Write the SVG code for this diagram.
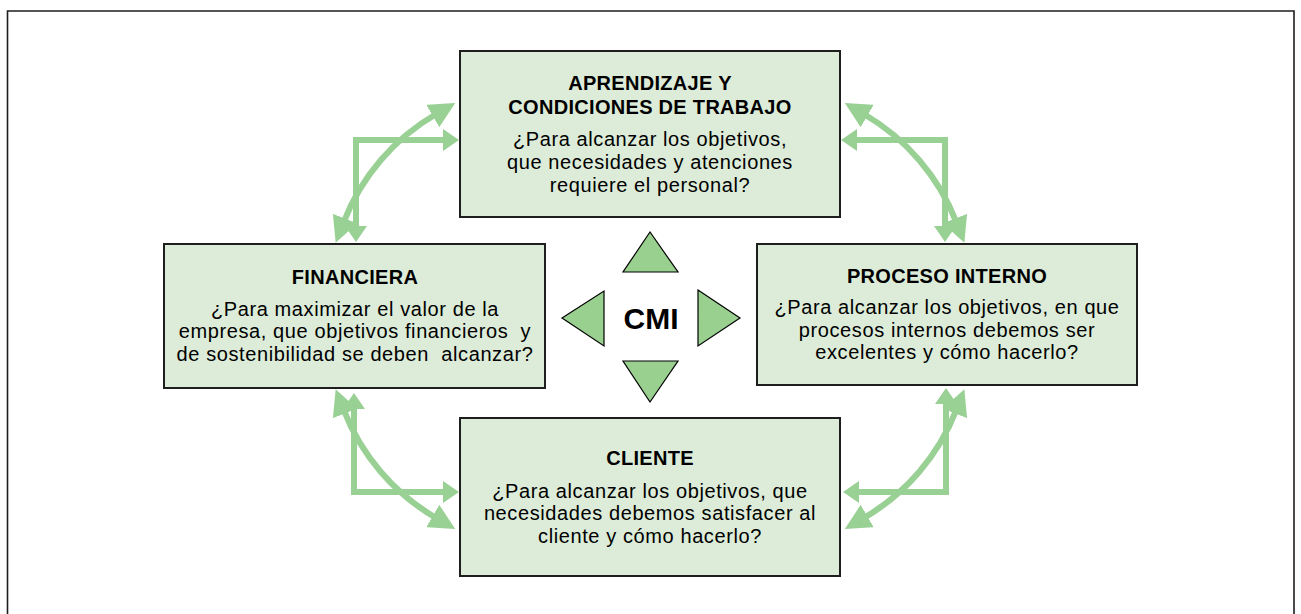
<svg xmlns="http://www.w3.org/2000/svg" width="1301" height="614" viewBox="0 0 1301 614">
<style>
.box{fill:#dcecd8;stroke:#1e1e1e;stroke-width:2}
.t{font-family:"Liberation Sans",Arial,sans-serif;font-size:20px;font-weight:bold;fill:#000;text-anchor:middle;letter-spacing:0.3px}
.b{font-family:"Liberation Sans",Arial,sans-serif;font-size:20px;fill:#000;text-anchor:middle;letter-spacing:0.6px}
.el{fill:none;stroke:#99d094;stroke-width:6;marker-start:url(#ah);marker-end:url(#ah)}
.arc{fill:none;stroke:#99d094;stroke-width:6;marker-start:url(#ahc);marker-end:url(#ahc)}
.tri{fill:#99cf8f;stroke:#000;stroke-width:1.2}
</style>
<defs>
<marker id="ah" markerUnits="userSpaceOnUse" markerWidth="16" markerHeight="22" viewBox="0 0 16 22" refX="3" refY="11" orient="auto-start-reverse"><path d="M0,0 L16,11 L0,22 z" fill="#99d094"/></marker>
<marker id="ahc" markerUnits="userSpaceOnUse" markerWidth="26" markerHeight="26" viewBox="0 0 26 26" refX="4" refY="13" orient="auto-start-reverse"><path d="M0,0 L26,13 L0,26 z" fill="#99d094"/></marker>
</defs>
<rect width="1301" height="614" fill="#fff"/>
<path d="M1294,614 V11 H7.5 V614" fill="none" stroke="#1e1e1e" stroke-width="1.6"/>
<g id="connectors">
<path class="el" d="M356,229 L356,140 L446,140"/>
<path class="arc" d="M343.6,222.3 A215,215 0 0 1 436.2,114"/>
<path class="el" d="M854,140 L945,140 L945,229"/>
<path class="arc" d="M863.8,114 A215,215 0 0 1 956.4,222.3"/>
<path class="el" d="M354,406 L354,492 L446,492"/>
<path class="arc" d="M343.6,409.7 A215,215 0 0 0 436.2,518"/>
<path class="el" d="M946,401 L946,492 L856,492"/>
<path class="arc" d="M956.4,409.7 A215,215 0 0 1 863.8,518"/>
</g>
<g id="aprendizaje">
<rect class="box" x="460" y="51" width="380" height="166"/>
<text class="t" x="650" y="90">APRENDIZAJE Y</text>
<text class="t" x="650" y="114">CONDICIONES DE TRABAJO</text>
<text class="b" x="650" y="146">¿Para alcanzar los objetivos,</text>
<text class="b" x="650" y="169">que necesidades y atenciones</text>
<text class="b" x="650" y="192">requiere el personal?</text>
</g>
<g id="financiera">
<rect class="box" x="164" y="244" width="381" height="144"/>
<text class="t" x="355" y="284">FINANCIERA</text>
<text class="b" x="355" y="316">¿Para maximizar el valor de la</text>
<text class="b" x="355" y="338" xml:space="preserve">empresa, que objetivos financieros  y</text>
<text class="b" x="355" y="361" xml:space="preserve">de sostenibilidad se deben  alcanzar?</text>
</g>
<g id="proceso">
<rect class="box" x="757" y="244" width="380" height="141"/>
<text class="t" x="947" y="283">PROCESO INTERNO</text>
<text class="b" x="947" y="314">¿Para alcanzar los objetivos, en que</text>
<text class="b" x="947" y="337">procesos internos debemos ser</text>
<text class="b" x="947" y="359">excelentes y cómo hacerlo?</text>
</g>
<g id="cliente">
<rect class="box" x="460" y="418" width="380" height="158"/>
<text class="t" x="650" y="465">CLIENTE</text>
<text class="b" x="650" y="498">¿Para alcanzar los objetivos, que</text>
<text class="b" x="650" y="520">necesidades debemos satisfacer al</text>
<text class="b" x="650" y="543">cliente y cómo hacerlo?</text>
</g>
<g id="cmi">
<polygon class="tri" points="650,232 623,272 678,272"/>
<polygon class="tri" points="562,318 604,291 604,346"/>
<polygon class="tri" points="698,290 740,318 698,346"/>
<polygon class="tri" points="623,361 678,361 650,402"/>
<text x="651" y="329" font-family="Liberation Sans,Arial,sans-serif" font-size="30" font-weight="bold" text-anchor="middle">CMI</text>
</g>
</svg>
